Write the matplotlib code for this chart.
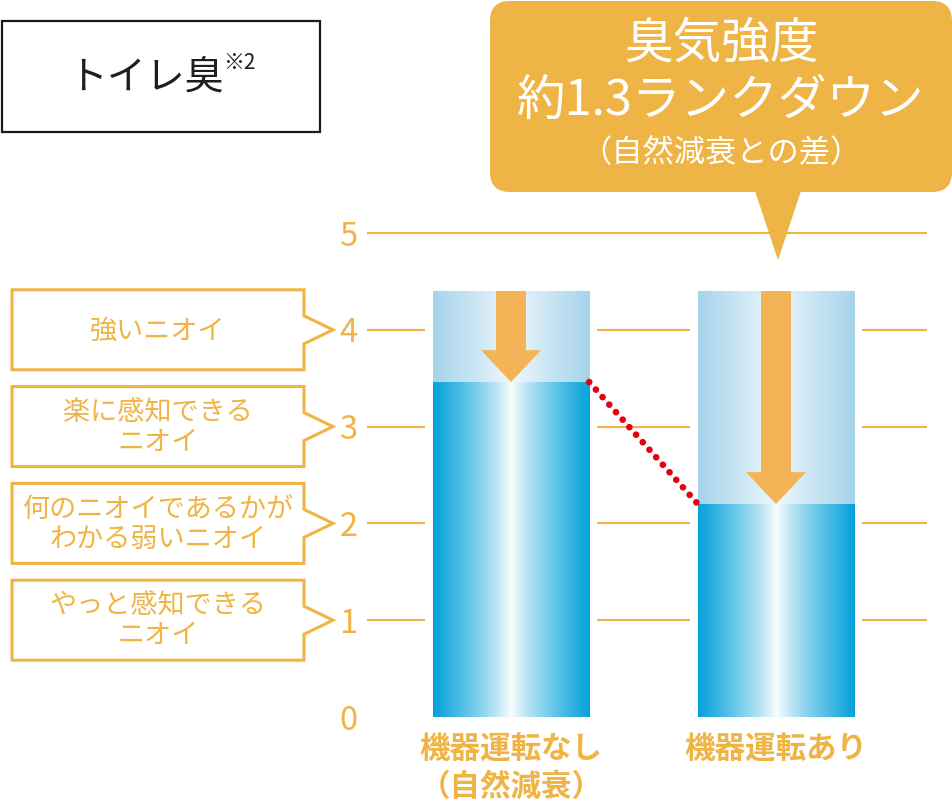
import matplotlib
matplotlib.use("Agg")
import matplotlib.pyplot as plt
import numpy as np
from matplotlib.patches import Polygon, Rectangle, FancyBboxPatch
from matplotlib.colors import to_rgb

plt.rcParams['font.family'] = ['Noto Sans CJK JP', 'DejaVu Sans']

# ---------------- data ----------------
categories = ["機器運転なし\n（自然減衰）", "機器運転あり"]
initial_level = [4.4, 4.4]
after_level = [3.46, 2.2]
tick_values = [0, 1, 2, 3, 4, 5]
tick_labels = ["0", "1", "2", "3", "4", "5"]
level_values = [4, 3, 2, 1]
level_labels = ["強いニオイ", "楽に感知できる\nニオイ",
                "何のニオイであるかが\nわかる弱いニオイ", "やっと感知できる\nニオイ"]
title = "トイレ臭"
title_note = "※2"
callout_lines = ["臭気強度", "約1.3ランクダウン", "（自然減衰との差）"]

# ---------------- style ----------------
W, H = 953, 810
ORANGE = '#F0B445'
ARROW = '#F5B358'
CALLOUT = '#EFB446'
RED = '#E8000E'

fig = plt.figure(figsize=(W / 100, H / 100), dpi=100)
ax = fig.add_axes([367 / W, 93 / H, 560 / W, 484 / H])
ax.set_facecolor('none')
for s in ax.spines.values():
    s.set_visible(False)

x = np.arange(len(categories))
bw = 0.59

full_bars = ax.bar(x, initial_level, width=bw, color='none', edgecolor='none', zorder=2)
low_bars = ax.bar(x, after_level, width=bw, color='none', edgecolor='none', zorder=2)


def grad(edge, center, n=256, gamma=0.85):
    t = np.abs(np.linspace(-1, 1, n)) ** gamma
    e = np.array(to_rgb(edge))
    c = np.array(to_rgb(center))
    return (c[None, :] * (1 - t[:, None]) + e[None, :] * t[:, None])[None, :, :]


top_grad = grad('#A6D4EB', '#F3FAFD')
low_grad = grad('#05A2DA', '#FFFFFF', gamma=0.8)

for pf, pl in zip(full_bars.patches, low_bars.patches):
    x0 = pf.get_x()
    x1 = x0 + pf.get_width()
    ax.imshow(top_grad, extent=[x0, x1, pl.get_height(), pf.get_height()],
              aspect='auto', interpolation='bilinear', zorder=2)
    ax.imshow(low_grad, extent=[x0, x1, 0, pl.get_height()],
              aspect='auto', interpolation='bilinear', zorder=2)

# arrows
sw = 15 / 265
hw = 30 / 265
hl = 0.33
for xc, top, tip in zip(x, initial_level, after_level):
    pts = [(xc - sw, top), (xc + sw, top), (xc + sw, tip + hl), (xc + hw, tip + hl),
           (xc, tip), (xc - hw, tip + hl), (xc - sw, tip + hl)]
    ax.add_patch(Polygon(pts, closed=True, facecolor=ARROW, edgecolor='none', zorder=3))

# red dotted connector
ax.plot([x[0] + bw / 2, x[1] - bw / 2], [after_level[0], after_level[1]],
        color=RED, lw=4.8, linestyle=(0, (0.01, 1.5)), dash_capstyle='round',
        zorder=4, clip_on=False)

xlim = (-0.5434, 1.5698)
ax.set_xlim(*xlim)
ax.set_ylim(0, 5)

# gridlines with gaps around the bars
gap = 8 / 265
for v in tick_values[1:]:
    if v > max(initial_level):
        ax.hlines(v, xlim[0], xlim[1], color=ORANGE, lw=1.5, zorder=1, clip_on=False)
    else:
        edges = [xlim[0]]
        for xc in x:
            edges += [xc - bw / 2 - gap, xc + bw / 2 + gap]
        edges.append(xlim[1])
        for a, b in zip(edges[0::2], edges[1::2]):
            ax.hlines(v, a, b, color=ORANGE, lw=1.5, zorder=1, clip_on=False)

ax.set_yticks(tick_values, tick_labels)
ax.set_xticks(x, categories)
ax.tick_params(axis='y', length=0, pad=7, labelsize=23.5, labelcolor=ORANGE)
ax.tick_params(axis='x', length=0, pad=12, labelsize=22, labelcolor=ORANGE)
for lbl in ax.get_xticklabels():
    lbl.set_fontweight('bold')

# ---------------- overlay (pixel coords) ----------------
ov = fig.add_axes([0, 0, 1, 1], zorder=5)
ov.set_xlim(0, W)
ov.set_ylim(H, 0)
ov.axis('off')
ov.patch.set_alpha(0)


def ypix(v):
    return H - ax.transData.transform((0, v))[1]


# title box
ov.add_patch(Rectangle((2, 21), 318, 111, facecolor='white', edgecolor='#1a1a1a', lw=1.6))
t = ov.text(68, 78, title, fontsize=28, color='#1e1e1e', ha='left', va='center')
ov.annotate(title_note, xy=(1, 0.5), xycoords=t, xytext=(0, 3), textcoords='offset points',
            fontsize=15, color='#1e1e1e', ha='left', va='bottom')

# callout
ov.add_patch(FancyBboxPatch((490, 1), 462, 191, boxstyle='round,pad=0,rounding_size=20',
                            facecolor=CALLOUT, edgecolor='none'))
ov.add_patch(Polygon([(754, 188), (802, 188), (778, 260)], closed=True,
                     facecolor=CALLOUT, edgecolor='none'))
ov.text(721, 44, callout_lines[0], fontsize=35, color='white', ha='center', va='center')
ov.text(721, 101, callout_lines[1], fontsize=35, color='white', ha='center', va='center')
ov.text(721, 153, callout_lines[2], fontsize=22.5, color='white', ha='center', va='center')

# level boxes
for v, lab in zip(level_values, level_labels):
    yc = ypix(v)
    pts = [(12, yc - 40), (304, yc - 40), (304, yc - 14), (333, yc), (304, yc + 14),
           (304, yc + 40), (12, yc + 40)]
    ov.add_patch(Polygon(pts, closed=True, facecolor='white', edgecolor=ORANGE,
                         lw=2.2, joinstyle='miter'))
    ov.text(158, yc + 1, lab, fontsize=19.5, color=ORANGE, ha='center', va='center',
            linespacing=1.1, multialignment='center')

fig.savefig('out.png', dpi=100)
